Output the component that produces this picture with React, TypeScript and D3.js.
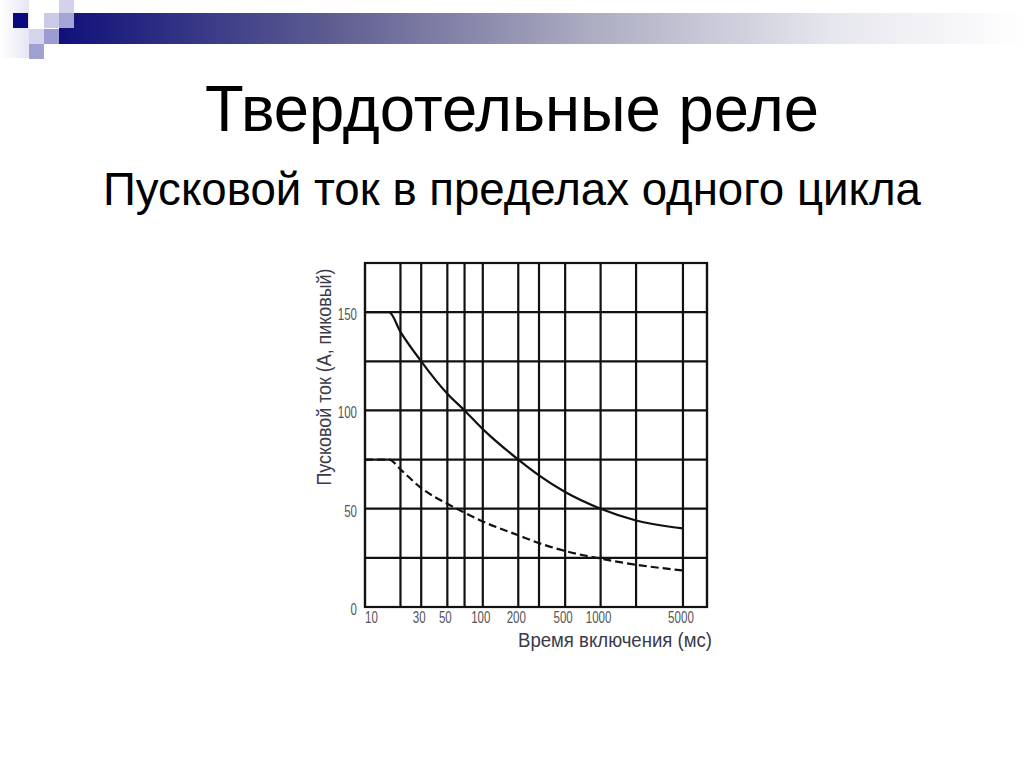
import React from 'react';
import * as d3 from 'd3';

// 坐标轴刻度与网格
const xGridValues = [10, 20, 30, 50, 70, 100, 200, 300, 500, 1000, 2000, 5000, 8000];
const xTickLabels = [10, 30, 50, 100, 200, 500, 1000, 5000];
const yGridValues = [0, 25, 50, 75, 100, 125, 150, 175];
const yTickLabels = [0, 50, 100, 150];

// 曲线数据（时间 мс, 电流 А）
const timeValues = [10, 16, 20, 30, 50, 70, 100, 200, 300, 500, 1000, 2000, 5000];
const solidCurrent = [150, 150, 140, 125, 108.5, 100, 90.5, 75, 67, 58.5, 50, 44, 40];
const dashedCurrent = [75, 75, 70, 60.5, 52.5, 48, 43.5, 36.5, 32.5, 28.5, 24.6, 21.5, 18.6];

const TITLE = 'Твердотельные реле';
const SUBTITLE = 'Пусковой ток в пределах одного цикла';
const X_TITLE = 'Время включения (мс)';
const Y_TITLE = 'Пусковой ток (А, пиковый)';

const WIDTH = 1024;
const HEIGHT = 767;
const plot = { left: 365, right: 707, top: 263, bottom: 607 };

const GRID_COLOR = '#111';
const TEXT_FONT = '"Liberation Sans", Arial, sans-serif';

export default function App(): JSX.Element {
  const x = d3.scaleLog().domain([10, 8000]).range([plot.left, plot.right]);
  const y = d3.scaleLinear().domain([0, 175]).range([plot.bottom, plot.top]);

  const line = d3
    .line<[number, number]>()
    .x((d) => x(d[0]))
    .y((d) => y(d[1]))
    .curve(d3.curveMonotoneX);

  const solidPath = line(timeValues.map((t, i) => [t, solidCurrent[i]])) as string;
  const dashedPath = line(timeValues.map((t, i) => [t, dashedCurrent[i]])) as string;

  // 左上角的装饰方块
  const squares = [
    { x: 13, y: 13, fill: '#0a0a7e' },
    { x: 59, y: 0, fill: '#d2d2ec' },
    { x: 44, y: 13, fill: '#cacae8' },
    { x: 59, y: 13, fill: '#a4a4d6' },
    { x: 29, y: 29, fill: '#d4d4ec' },
    { x: 44, y: 29, fill: '#9c9cd2' },
    { x: 29, y: 44, fill: '#a0a0d2' }
  ];

  return (
    <svg
      width={WIDTH}
      height={HEIGHT}
      style={{ position: 'absolute', left: 0, top: 0, background: '#fff' }}
    >
      <defs>
        <linearGradient id="bar" x1="0" x2="1" y1="0" y2="0">
          <stop offset="0" stopColor="#10107a" />
          <stop offset="0.3" stopColor="#626294" />
          <stop offset="0.55" stopColor="#acacc2" />
          <stop offset="0.8" stopColor="#e6e6ee" />
          <stop offset="1" stopColor="#ffffff" />
        </linearGradient>
        <linearGradient id="stripe" x1="0" x2="1" y1="0" y2="0">
          <stop offset="0" stopColor="#ffffff" />
          <stop offset="1" stopColor="#e6e6f4" />
        </linearGradient>
      </defs>

      {/* 顶部装饰条 */}
      <rect x={0} y={0} width={29} height={58} fill="url(#stripe)" />
      <rect x={59} y={13} width={WIDTH - 59} height={31} fill="url(#bar)" />
      {squares.map((s, i) => (
        <rect key={i} x={s.x} y={s.y} width={15} height={15} fill={s.fill} />
      ))}

      {/* 标题 */}
      <text
        x={512}
        y={131}
        textAnchor="middle"
        fontFamily={TEXT_FONT}
        fontSize={64}
        textLength={614}
        lengthAdjust="spacingAndGlyphs"
        fill="#000"
      >
        {TITLE}
      </text>
      <text
        x={512}
        y={205}
        textAnchor="middle"
        fontFamily={TEXT_FONT}
        fontSize={47}
        textLength={818}
        lengthAdjust="spacingAndGlyphs"
        fill="#000"
      >
        {SUBTITLE}
      </text>

      {/* 网格 */}
      <g stroke={GRID_COLOR} strokeWidth={2.2}>
        {xGridValues.map((v) => (
          <line key={'x' + v} x1={x(v)} x2={x(v)} y1={plot.top} y2={plot.bottom} />
        ))}
        {yGridValues.map((v) => (
          <line key={'y' + v} x1={plot.left} x2={plot.right} y1={y(v)} y2={y(v)} />
        ))}
        <rect
          x={plot.left}
          y={plot.top}
          width={plot.right - plot.left}
          height={plot.bottom - plot.top}
          fill="none"
        />
      </g>

      {/* 曲线 */}
      <path d={solidPath} fill="none" stroke="#111" strokeWidth={2.2} />
      <path
        d={dashedPath}
        fill="none"
        stroke="#111"
        strokeWidth={2.2}
        strokeDasharray="8,4"
      />

      {/* y 轴刻度（窄体数字） */}
      {yTickLabels.map((v) => (
        <g key={'yl' + v} transform={`translate(${plot.left - 8}, ${y(v) + 2}) scale(0.68, 1)`}>
          <text dy="0.35em" textAnchor="end" fontFamily={TEXT_FONT} fontSize={17} fill="#555">
            {v}
          </text>
        </g>
      ))}

      {/* x 轴刻度 */}
      {xTickLabels.map((v) => (
        <g key={'xl' + v} transform={`translate(${v === 10 ? x(v) : x(v) - 2}, 623) scale(0.68, 1)`}>
          <text
            textAnchor={v === 10 ? 'start' : 'middle'}
            fontFamily={TEXT_FONT}
            fontSize={17}
            fill="#555"
          >
            {v}
          </text>
        </g>
      ))}

      {/* 轴标题 */}
      <text
        x={712}
        y={647}
        textAnchor="end"
        fontFamily={TEXT_FONT}
        fontSize={20}
        textLength={194}
        lengthAdjust="spacingAndGlyphs"
        fill="#3a3a48"
      >
        {X_TITLE}
      </text>
      <text
        transform={`translate(331, 377) rotate(-90)`}
        textAnchor="middle"
        fontFamily={TEXT_FONT}
        fontSize={20}
        textLength={217}
        lengthAdjust="spacingAndGlyphs"
        fill="#3a3a48"
      >
        {Y_TITLE}
      </text>
    </svg>
  );
}
